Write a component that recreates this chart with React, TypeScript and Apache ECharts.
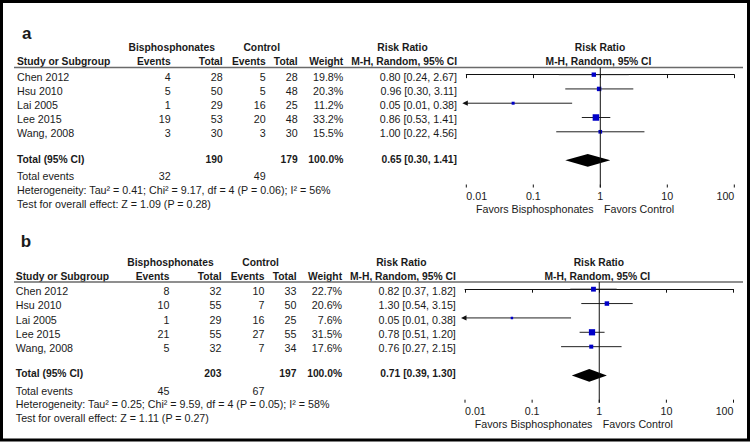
import React, { useEffect, useRef } from "react";
import * as echarts from "echarts";

// ---------- data ----------
const studies = ["Chen 2012", "Hsu 2010", "Lai 2005", "Lee 2015", "Wang, 2008"];

const aBisEvents = [4, 5, 1, 19, 3];
const aBisTotal = [28, 50, 29, 53, 30];
const aCtlEvents = [5, 5, 16, 20, 3];
const aCtlTotal = [28, 48, 25, 48, 30];
const aWeight = [19.8, 20.3, 11.2, 33.2, 15.5];
const aRR = [0.8, 0.96, 0.05, 0.86, 1.0];
const aLo = [0.24, 0.3, 0.01, 0.53, 0.22];
const aHi = [2.67, 3.11, 0.38, 1.41, 4.56];
const aPooled = [0.65, 0.3, 1.41];
const aTotals = [190, 179];
const aTotalEvents = [32, 49];
const aHetero = "Heterogeneity: Tau\u00b2 = 0.41; Chi\u00b2 = 9.17, df = 4 (P = 0.06); I\u00b2 = 56%";
const aTest = "Test for overall effect: Z = 1.09 (P = 0.28)";

const bBisEvents = [8, 10, 1, 21, 5];
const bBisTotal = [32, 55, 29, 55, 32];
const bCtlEvents = [10, 7, 16, 27, 7];
const bCtlTotal = [33, 50, 25, 55, 34];
const bWeight = [22.7, 20.6, 7.6, 31.5, 17.6];
const bRR = [0.82, 1.3, 0.05, 0.78, 0.76];
const bLo = [0.37, 0.54, 0.01, 0.51, 0.27];
const bHi = [1.82, 3.15, 0.38, 1.2, 2.15];
const bPooled = [0.71, 0.39, 1.3];
const bTotals = [203, 197];
const bTotalEvents = [45, 67];
const bHetero = "Heterogeneity: Tau\u00b2 = 0.25; Chi\u00b2 = 9.59, df = 4 (P = 0.05); I\u00b2 = 58%";
const bTest = "Test for overall effect: Z = 1.11 (P = 0.27)";

const tickValues = [0.01, 0.1, 1, 10, 100];
const tickLabels = ["0.01", "0.1", "1", "10", "100"];

// ---------- styles ----------
const FONT = '"Liberation Sans", Arial, sans-serif';
const TEXT = "#1a1a1a";
const SQUARE = "#0000c8";
const REG = 10.7;
const BOLD = 10.3;
const AXMIN = 0.01;
const AXMAX = 100;
const YMIN = -0.5;
const YMAX = 7.9;

function txt(text: string, x: number, y: number, align: string, bold = false, size?: number) {
  const fs = size ?? (bold ? BOLD : REG);
  return {
    type: "text",
    x,
    y,
    silent: true,
    style: {
      text,
      font: `${bold ? "bold " : ""}${fs}px ${FONT}`,
      fill: TEXT,
      textAlign: align,
      textVerticalAlign: "middle",
      align,
      verticalAlign: "middle",
    },
  };
}

const fmt = (v: number) => v.toFixed(2);
const ci = (r: number, l: number, h: number) => `${fmt(r)} [${fmt(l)}, ${fmt(h)}]`;

type Panel = {
  label: string;
  labelY: number;
  y0: number;
  dx: number;
  bisE: number[];
  bisT: number[];
  ctlE: number[];
  ctlT: number[];
  w: number[];
  rr: number[];
  lo: number[];
  hi: number[];
  pooled: number[];
  totals: number[];
  totalEvents: number[];
  hetero: string;
  test: string;
};

const panels: Panel[] = [
  {
    label: "a", labelY: 33, y0: 67.5, dx: 0,
    bisE: aBisEvents, bisT: aBisTotal, ctlE: aCtlEvents, ctlT: aCtlTotal, w: aWeight,
    rr: aRR, lo: aLo, hi: aHi, pooled: aPooled, totals: aTotals, totalEvents: aTotalEvents,
    hetero: aHetero, test: aTest,
  },
  {
    label: "b", labelY: 241.5, y0: 282, dx: -1.2,
    bisE: bBisEvents, bisT: bBisTotal, ctlE: bCtlEvents, ctlT: bCtlTotal, w: bWeight,
    rr: bRR, lo: bLo, hi: bHi, pooled: bPooled, totals: bTotals, totalEvents: bTotalEvents,
    hetero: bHetero, test: bTest,
  },
];

const grids = [
  { left: 466.3, top: 67.5, width: 268, height: 120 },
  { left: 465, top: 282, width: 268.5, height: 120.7 },
];

function panelGraphics(p: Panel) {
  const d = p.dx;
  const y0 = p.y0;
  const col = {
    study: 17 + d,
    bisE: 170.7 + d,
    bisT: 222.7 + d,
    ctlE: 265.7 + d,
    ctlT: 297.7 + d,
    weight: 343.3 + d,
    ci: 457 + d,
    bisH: 171.7 + d,
    ctlH: 261.7 + d,
    rrH: 402.5 + d,
    forestH: 600 + d,
  };
  const els: any[] = [];
  els.push(txt(p.label, 22 + d, p.labelY, "left", true, 17));
  const h1 = y0 - 19.8;
  const h2 = y0 - 5.8;
  els.push(txt("Bisphosphonates", col.bisH, h1, "center", true));
  els.push(txt("Control", col.ctlH, h1, "center", true));
  els.push(txt("Risk Ratio", col.rrH, h1, "center", true));
  els.push(txt("Risk Ratio", col.forestH, h1, "center", true));
  els.push(txt("Study or Subgroup", col.study, h2, "left", true));
  els.push(txt("Events", col.bisE, h2, "right", true));
  els.push(txt("Total", col.bisT, h2, "right", true));
  els.push(txt("Events", col.ctlE, h2, "right", true));
  els.push(txt("Total", col.ctlT, h2, "right", true));
  els.push(txt("Weight", col.weight, h2, "right", true));
  els.push(txt("M-H, Random, 95% CI", col.ci, h2, "right", true));
  els.push(txt("M-H, Random, 95% CI", col.forestH - 1.5, h2, "center", true));
  els.push({
    type: "line",
    silent: true,
    shape: { x1: 14, y1: y0, x2: 743, y2: y0 },
    style: { stroke: "#6a6a6a", lineWidth: 1.5 },
  });
  studies.forEach((s, i) => {
    const y = y0 + 9.2 + 14.15 * i;
    els.push(txt(s, col.study, y, "left"));
    els.push(txt(String(p.bisE[i]), col.bisE, y, "right"));
    els.push(txt(String(p.bisT[i]), col.bisT, y, "right"));
    els.push(txt(String(p.ctlE[i]), col.ctlE, y, "right"));
    els.push(txt(String(p.ctlT[i]), col.ctlT, y, "right"));
    els.push(txt(p.w[i].toFixed(1) + "%", col.weight, y, "right"));
    els.push(txt(ci(p.rr[i], p.lo[i], p.hi[i]), col.ci, y, "right"));
  });
  const yt = y0 + 91.8;
  els.push(txt("Total (95% CI)", col.study, yt, "left", true));
  els.push(txt(String(p.totals[0]), col.bisT, yt, "right", true));
  els.push(txt(String(p.totals[1]), col.ctlT, yt, "right", true));
  const wsum = p.w.reduce((a, b) => a + b, 0);
  els.push(txt(wsum.toFixed(1) + "%", col.weight, yt, "right", true));
  els.push(txt(ci(p.pooled[0], p.pooled[1], p.pooled[2]), col.ci, yt, "right", true));
  const ye = y0 + 108.5;
  els.push(txt("Total events", col.study, ye, "left"));
  els.push(txt(String(p.totalEvents[0]), col.bisE, ye, "right"));
  els.push(txt(String(p.totalEvents[1]), col.ctlE, ye, "right"));
  els.push(txt(p.hetero, col.study, y0 + 122.3, "left"));
  els.push(txt(p.test, col.study, y0 + 136, "left"));
  els.push(txt("Favors Bisphosphonates", 534.8 + d, y0 + 141.5, "center"));
  els.push(txt("Favors Control", 639 + d, y0 + 141.5, "center"));
  return els;
}

function studySeries(p: Panel, gi: number) {
  const data = studies.map((_, i) => [p.rr[i], p.lo[i], p.hi[i], p.w[i], i]);
  return {
    type: "custom",
    xAxisIndex: gi,
    yAxisIndex: gi,
    clip: false,
    silent: true,
    encode: { x: 0, y: 4 },
    data,
    renderItem: (params: any, api: any) => {
      const rr = api.value(0);
      const lo = api.value(1);
      const hi = api.value(2);
      const w = api.value(3);
      const row = api.value(4);
      const c = api.coord([rr, row]);
      const clipped = lo <= AXMIN;
      const l = api.coord([Math.max(lo, AXMIN), row]);
      const h = api.coord([Math.min(hi, AXMAX), row]);
      const s = 1.2 + 0.16 * w;
      const children: any[] = [];
      const startX = clipped ? l[0] - 2 : l[0];
      children.push({
        type: "line",
        shape: { x1: startX, y1: c[1], x2: h[0], y2: c[1] },
        style: { stroke: "#222", lineWidth: 1 },
      });
      if (clipped) {
        children.push({
          type: "polygon",
          shape: {
            points: [
              [l[0] - 4, c[1]],
              [l[0] + 1.5, c[1] - 2.6],
              [l[0] + 1.5, c[1] + 2.6],
            ],
          },
          style: { fill: "#111" },
        });
      }
      children.push({
        type: "rect",
        shape: { x: c[0] - s / 2, y: c[1] - s / 2, width: s, height: s },
        style: { fill: SQUARE },
      });
      return { type: "group", children };
    },
  };
}

function diamondSeries(p: Panel, gi: number) {
  return {
    type: "custom",
    xAxisIndex: gi,
    yAxisIndex: gi,
    clip: false,
    silent: true,
    encode: { x: 0, y: 3 },
    data: [[p.pooled[0], p.pooled[1], p.pooled[2], 6]],
    renderItem: (params: any, api: any) => {
      const row = api.value(3);
      const c = api.coord([api.value(0), row]);
      const l = api.coord([api.value(1), row]);
      const h = api.coord([api.value(2), row]);
      const hh = 6.3;
      return {
        type: "polygon",
        shape: { points: [[l[0], c[1]], [c[0], c[1] - hh], [h[0], c[1]], [c[0], c[1] + hh]] },
        style: { fill: "#000" },
      };
    },
  };
}

// upward half of the axis ticks (the axis itself draws the downward half)
function upTicks(gi: number) {
  return {
    type: "custom",
    xAxisIndex: gi,
    yAxisIndex: gi,
    clip: false,
    silent: true,
    encode: { x: 0, y: 1 },
    data: tickValues.map((t) => [t, 3]),
    renderItem: (params: any, api: any) => {
      const x = api.coord([api.value(0), 3])[0];
      const cs = params.coordSys;
      const yb = cs.y + cs.height;
      return {
        type: "line",
        shape: { x1: x, y1: yb, x2: x, y2: yb - 3 },
        style: { stroke: "#111", lineWidth: 1 },
      };
    },
  };
}

function vline(gi: number) {
  return {
    type: "line",
    xAxisIndex: gi,
    yAxisIndex: gi,
    silent: true,
    symbol: "none",
    data: [[1, YMIN], [1, YMAX]],
    lineStyle: { color: "#111", width: 1 },
  };
}

function xAxis(gi: number) {
  return {
    type: "log",
    logBase: 10,
    gridIndex: gi,
    min: AXMIN,
    max: AXMAX,
    position: "bottom",
    splitLine: { show: false },
    axisLine: { show: true, lineStyle: { color: "#111", width: 1 } },
    axisTick: { show: true, inside: false, length: 3.5, lineStyle: { color: "#111" } },
    axisLabel: {
      show: true,
      margin: 2.5,
      fontSize: REG,
      fontFamily: FONT,
      color: TEXT,
      alignMinLabel: "left",
      alignMaxLabel: "right",
      formatter: (v: number) => {
        const k = tickValues.findIndex((t) => Math.abs(Math.log10(t) - Math.log10(v)) < 1e-6);
        return k >= 0 ? tickLabels[k] : "";
      },
    },
  };
}

export default function App() {
  const ref = useRef<HTMLDivElement>(null);
  useEffect(() => {
    if (!ref.current) return;
    const chart = echarts.init(ref.current, undefined, { renderer: "svg" });
    const graphics: any[] = [];
    panels.forEach((p) => graphics.push(...panelGraphics(p)));
    graphics.push({
      type: "rect",
      silent: true,
      z: 100,
      shape: { x: 1.5, y: 1.5, width: 747, height: 438.5 },
      style: { fill: "none", stroke: "#000", lineWidth: 3 },
    });
    const option: any = {
      animation: false,
      backgroundColor: "#fff",
      grid: grids.map((g) => ({ ...g, containLabel: false })),
      xAxis: grids.map((_, gi) => xAxis(gi)),
      yAxis: grids.map((_, gi) => ({
        type: "value",
        gridIndex: gi,
        min: YMIN,
        max: YMAX,
        inverse: true,
        show: false,
      })),
      series: panels.flatMap((p, gi) => [
        vline(gi),
        upTicks(gi),
        studySeries(p, gi),
        diamondSeries(p, gi),
      ]),
      graphic: graphics,
    };
    chart.setOption(option);
    return () => chart.dispose();
  }, []);
  return (
    <div
      ref={ref}
      style={{ position: "absolute", left: 0, top: 0, width: 751, height: 442 }}
    />
  );
}
